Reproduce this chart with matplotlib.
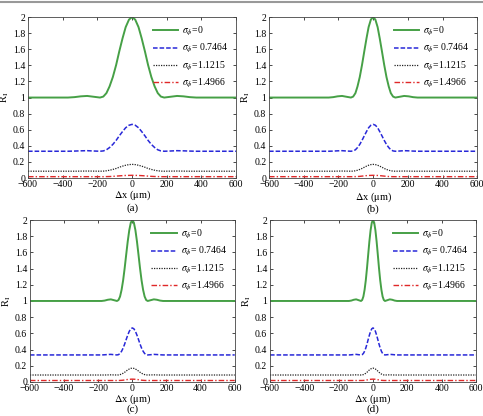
import numpy as np
import matplotlib.pyplot as plt
from matplotlib.lines import Line2D

plt.rcParams['font.family'] = ['Liberation Serif', 'DejaVu Serif']
plt.rcParams['mathtext.fontset'] = 'stix'

# half profiles (x >= 0), mirrored when plotted; one x grid per panel
x_a = [0, 18, 37, 55, 74, 92, 111, 130, 148, 166, 185, 222, 259, 296, 333, 370, 600]
x_b = [0, 13, 26, 38, 51, 64, 77, 90, 102, 115, 128, 154, 179, 205, 230, 256, 600]
x_c = [0, 9, 18, 27, 36, 45, 54, 63, 72, 81, 90, 108, 126, 144, 162, 180, 600]
x_d = [0, 7, 14, 21, 28, 35, 42, 49, 56, 63, 70, 84, 98, 112, 126, 140, 600]

r_s0 = [2.0, 1.968, 1.875, 1.737, 1.573, 1.405, 1.255, 1.138, 1.055, 1.012, 1.0,
        1.010, 1.020, 1.015, 1.005, 1.0, 1.0]
r_s1 = [0.667, 0.656, 0.625, 0.578, 0.524, 0.468, 0.418, 0.379, 0.351, 0.337, 0.333,
        0.336, 0.340, 0.338, 0.335, 0.333, 0.333]
r_s2 = [0.170, 0.167, 0.159, 0.148, 0.134, 0.119, 0.107, 0.097, 0.090, 0.086, 0.085,
        0.086, 0.087, 0.086, 0.085, 0.085, 0.085]
r_s3 = [0.034, 0.033, 0.032, 0.030, 0.027, 0.024, 0.021, 0.019, 0.018, 0.017, 0.017,
        0.017, 0.017, 0.017, 0.017, 0.017, 0.017]

labels = [r'$\sigma_\phi$=0', r'$\sigma_\phi$= 0.7464', r'$\sigma_\phi$=1.1215', r'$\sigma_\phi$=1.4966']
panels = ['(a)', '(b)', '(c)', '(d)']
xgrids = [x_a, x_b, x_c, x_d]

styles = [dict(color='#46a046', ls='-', lw=1.4),
          dict(color='#2828d8', ls=(0, (3, 1.3)), lw=1.1),
          dict(color='#222222', ls=(0, (1, 1)), lw=0.9),
          dict(color='#e02828', ls=(0, (4, 1.5, 1, 1.5)), lw=1.0)]

positions = [[0.058, 0.572, 0.431, 0.387],
             [0.557, 0.572, 0.431, 0.387],
             [0.062, 0.082, 0.424, 0.389],
             [0.559, 0.082, 0.4265, 0.389]]
xlab_y = [-0.108, -0.12, -0.105, -0.105]
panel_y = [-0.19, -0.192, -0.166, -0.166]


def mirror(v, sign):
    v = np.array(v, dtype=float)
    return np.concatenate([sign * v[::-1], v[1:]])


fig = plt.figure(figsize=(4.83, 4.16), dpi=100)
for i in range(4):
    ax = fig.add_axes(positions[i])
    xx = mirror(xgrids[i], -1)
    for ys, st, lab in zip([r_s0, r_s1, r_s2, r_s3], styles, labels):
        ax.plot(xx, mirror(ys, 1), label=lab, **st)
    ax.set_xlim(-600, 600)
    ax.set_ylim(0, 2)
    ax.set_xticks(np.arange(-600, 601, 200))
    ax.set_yticks(np.arange(0, 2.01, 0.2))
    ax.set_yticklabels(['0', '0.2', '0.4', '0.6', '0.8', '1', '1.2', '1.4', '1.6', '1.8', '2'])
    ax.tick_params(direction='in', top=True, right=True, labelsize=7, length=2, width=0.5)
    ax.tick_params(axis='x', pad=1.5)
    ax.tick_params(axis='y', pad=2)
    for s in ax.spines.values():
        s.set_linewidth(0.6)
        s.set_color('#444444')
    ax.set_xlabel(r'$\Delta$x ($\mathrm{\mu}$m)', fontsize=7.5, va='center')
    ax.xaxis.set_label_coords(0.5, xlab_y[i])
    ax.set_ylabel(r'R$_\mathrm{I}$', fontsize=7.5, labelpad=1)
    ax.text(0.5, panel_y[i], panels[i], transform=ax.transAxes, ha='center', va='center', fontsize=8)
    ax.legend(loc='upper right', frameon=False, fontsize=7, handlelength=2.6,
              labelspacing=0.45, borderaxespad=0.4, handletextpad=0.4)

fig.add_artist(Line2D([0, 1], [0.995, 0.995], color='#999999', lw=1.5, transform=fig.transFigure))
fig.savefig('out.png', dpi=100)
